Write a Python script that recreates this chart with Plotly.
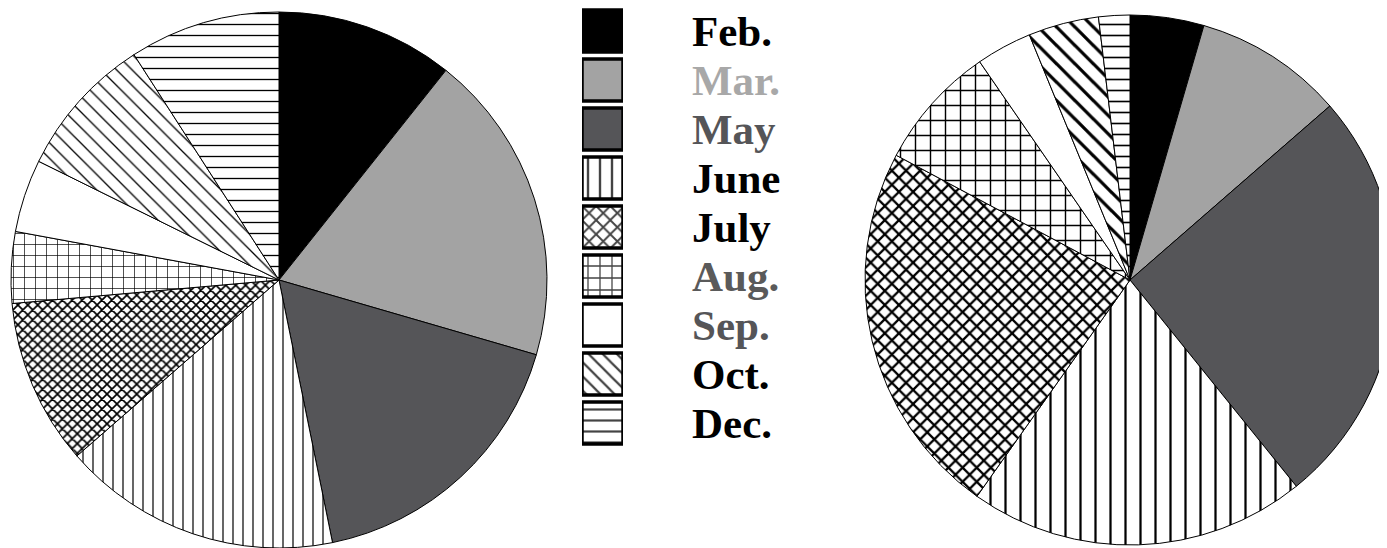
import plotly.graph_objects as go

# months shown in both pies and in the legend
labels = ["Feb.", "Mar.", "May", "June", "July", "Aug.", "Sep.", "Oct.", "Dec."]

# shares (percent)
left_values = [10.7, 18.8, 17.3, 16.8, 10.0, 4.3, 4.4, 8.6, 9.1]
right_values = [4.5, 9.1, 25.6, 20.6, 23.0, 7.6, 3.4, 4.3, 1.9]

# one legend box per month
legend_values = [1] * len(labels)

fills = ["#000000", "#a3a3a3", "#555558", "white", "white", "white", "white", "white", "white"]
shapes = ["", "", "", "|", "x", "+", "", "\\", "-"]
text_colors = ["#000000", "#a8a8a8", "#555558", "#000000", "#000000",
               "#5a5a5a", "#555558", "#000000", "#000000"]

left_sizes = [10, 10, 10, 10, 7, 11, 10, 11, 11]
left_solid = [0.1, 0.1, 0.1, 0.12, 0.42, 0.12, 0.1, 0.12, 0.12]
right_sizes = [15, 15, 15, 15, 10, 15, 15, 13, 11]
right_solid = [0.15, 0.15, 0.15, 0.15, 0.4, 0.18, 0.15, 0.25, 0.15]
legend_sizes = [11, 11, 11, 12, 10, 12, 11, 10, 11]
legend_solid = [0.2, 0.2, 0.2, 0.2, 0.35, 0.2, 0.2, 0.22, 0.2]

# the page body has an 8px margin, so figure coords are page coords - 8
W, H = 1387, 548


def make_pie(values, sizes, solidity, domain):
    return go.Pie(
        labels=labels,
        values=values,
        sort=False,
        direction="clockwise",
        rotation=0,
        textinfo="none",
        hoverinfo="label+percent",
        showlegend=False,
        domain=domain,
        marker=dict(
            colors=fills,
            line=dict(color="black", width=1),
            pattern=dict(shape=shapes, size=sizes, solidity=solidity,
                         fgcolor="black", fgopacity=1),
        ),
    )


fig = go.Figure()

pie_y = [(H - 540) / H, (H - 4) / H]
fig.add_trace(make_pie(left_values, left_sizes, left_solid,
                       dict(x=[3 / W, 539 / W], y=pie_y)))
fig.add_trace(make_pie(right_values, right_sizes, right_solid,
                       dict(x=[857 / W, 1], y=pie_y)))

# legend drawn as boxes + labels
fig.add_trace(go.Bar(
    x=legend_values,
    y=labels,
    orientation="h",
    showlegend=False,
    hoverinfo="skip",
    marker=dict(
        color=fills,
        line=dict(color="black", width=3.5),
        pattern=dict(shape=shapes, size=legend_sizes, solidity=legend_solid,
                     fgcolor="black", fgopacity=1),
    ),
    xaxis="x",
    yaxis="y",
))

fig.add_trace(go.Scatter(
    x=[0] * len(labels),
    y=labels,
    mode="text",
    text=labels,
    textposition="middle right",
    textfont=dict(family="Liberation Serif", size=43, color=text_colors, weight="bold"),
    cliponaxis=False,
    showlegend=False,
    hoverinfo="skip",
    xaxis="x2",
    yaxis="y2",
))

leg_domain = [(H - 440) / H, 1]
fig.update_layout(
    width=W,
    height=H,
    margin=dict(l=0, r=0, t=0, b=0),
    paper_bgcolor="white",
    plot_bgcolor="white",
    bargap=0.143,
    xaxis=dict(domain=[574 / W, 615 / W], range=[0, 1], visible=False, fixedrange=True),
    yaxis=dict(domain=leg_domain, type="category",
               categoryorder="array", categoryarray=labels,
               range=[8.51, -0.469], visible=False, fixedrange=True),
    xaxis2=dict(domain=[684 / W, 0.6], range=[0, 1], anchor="y2",
                visible=False, fixedrange=True),
    yaxis2=dict(domain=leg_domain, type="category", anchor="x2",
                categoryorder="array", categoryarray=labels,
                range=[8.42, -0.559], visible=False, fixedrange=True),
)

fig.write_html("out.html")
